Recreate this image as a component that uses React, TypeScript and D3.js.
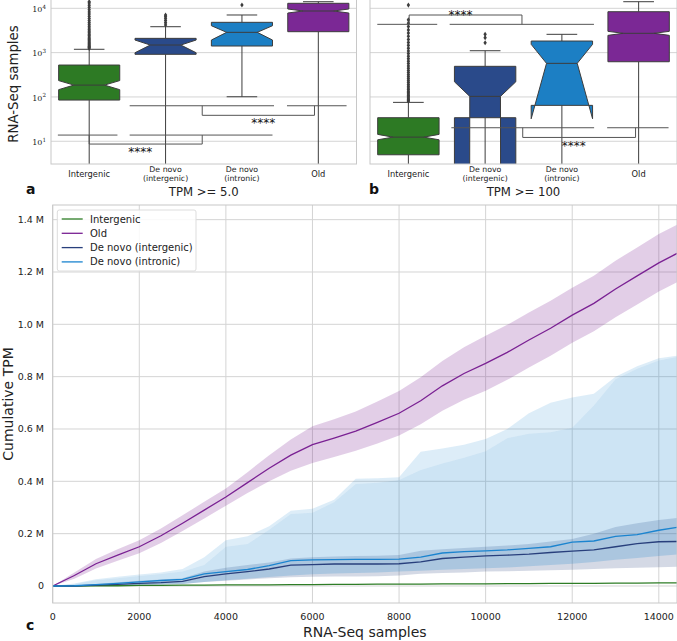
import React from "react";
import * as d3 from "d3";

// ---------------- Panels a & b : notched box plots ----------------
const boxCategories = [["Intergenic"], ["De novo", "(intergenic)"], ["De novo", "(intronic)"], ["Old"]];
const boxColors = ["#2d7a24", "#2a4a8a", "#1c7fc4", "#7b2895"];
const panelTitles = ["TPM >= 5.0", "TPM >= 100"];
const panelLetters = ["a", "b", "c"];
const logTicks = [10, 100, 1000, 10000];
const logTickExp = ["1", "2", "3", "4"];

// TPM >= 5.0
const aWhiskerLo = [1, 1, 101, 1];
const aQ1 = [85, 916, 1410, 2967];
const aNotchLo = [146, 995, 1925, 7830];
const aMedian = [185, 1485, 2870, 8690];
const aNotchHi = [234, 1923, 4050, 9650];
const aQ3 = [525, 2100, 4830, 12970];
const aWhiskerHi = [1190, 3845, 7070, 14090];
const aOutliers = [
  [1250, 1300, 1360, 1420, 1490, 1570, 1650, 1740, 1850, 1970, 2100, 2250, 2420, 2600, 2800, 3050, 3300, 3600, 3950, 4350, 4800, 5300, 5900, 6600, 7400, 8300, 9300, 10500, 11800, 13200, 14100],
  [4200, 4700, 5300, 5940, 6600, 7070],
  [11870],
  [],
];
// TPM >= 100
const bWhiskerLo = [1, 1, 1, 1];
const bQ1 = [4.96, 34, 64.6, 623];
const bNotchLo = [10.8, -20, 32.2, 2455];
const bMedian = [12.4, 103, 573, 2730];
const bNotchHi = [14.3, 220, 1538, 3020];
const bQ3 = [34, 491, 1828, 8380];
const bWhiskerHi = [75.5, 1104, 2590, 14090];
const bOutliers = [
  [80, 84, 89, 95, 101, 108, 116, 125, 135, 147, 160, 175, 192, 211, 233, 258, 286, 318, 355, 397, 445, 500, 565, 640, 730, 830, 950, 1090, 1260, 1460, 1700, 1990, 2340, 2760, 3260, 3870, 4600, 5500, 11860],
  [1670, 2170, 2590],
  [],
  [],
];

// significance annotations: [from category, to category, value]
const aSegments = [[-0.41, 0.37, 13.8], [0.53, 2.4, 13.8], [0.53, 2.42, 63.3], [2.59, 3.37, 63.3]];
const aBrackets = [[0, 1.48, 13.8, 8.65], [1.48, 2.95, 63.3, 38.5]];
const aStars = [[0.67, 4.63], [2.28, 21.2]];
const bSegments = [[-0.405, 0.376, 4350], [0.538, 2.418, 4350], [0.56, 2.42, 20.2], [2.59, 3.39, 20.2]];
const bBrackets = [[0.01, 1.48, 4350, 7060], [1.49, 2.96, 20.2, 12.2]];
const bStars = [[0.68, 5730], [2.155, 6.43]];
const starLabel = "****";

// ---------------- Panel c : cumulative TPM ----------------
const seriesNames = ["Intergenic", "Old", "De novo (intergenic)", "De novo (intronic)"];
const seriesColors = ["#2e7d26", "#7a2193", "#283f7c", "#1b84cf"];
const samples = [0, 500, 1000, 1500, 2000, 2500, 3000, 3500, 4000, 4500, 5000, 5500, 6000, 6500, 7000, 7500, 8000, 8500, 9000, 9500, 10000, 10500, 11000, 11500, 12000, 12500, 13000, 13500, 14000, 14420];
const intergenicMean = [0, 0, 0.001, 0.001, 0.002, 0.002, 0.003, 0.003, 0.004, 0.004, 0.004, 0.005, 0.005, 0.006, 0.006, 0.007, 0.007, 0.007, 0.008, 0.008, 0.008, 0.009, 0.009, 0.01, 0.01, 0.01, 0.011, 0.011, 0.012, 0.012];
const oldMean = [0, 0.04, 0.085, 0.118, 0.15, 0.192, 0.24, 0.29, 0.34, 0.395, 0.45, 0.5, 0.54, 0.565, 0.592, 0.625, 0.66, 0.708, 0.765, 0.812, 0.851, 0.893, 0.94, 0.985, 1.035, 1.08, 1.135, 1.185, 1.235, 1.271];
const oldLo = [0, 0.028, 0.067, 0.096, 0.125, 0.164, 0.21, 0.258, 0.307, 0.355, 0.4, 0.44, 0.47, 0.493, 0.517, 0.545, 0.575, 0.618, 0.67, 0.712, 0.746, 0.788, 0.835, 0.88, 0.93, 0.974, 1.027, 1.076, 1.125, 1.161];
const oldHi = [0, 0.052, 0.103, 0.14, 0.175, 0.22, 0.27, 0.322, 0.373, 0.435, 0.5, 0.56, 0.61, 0.637, 0.667, 0.705, 0.745, 0.798, 0.86, 0.912, 0.956, 0.998, 1.045, 1.09, 1.14, 1.186, 1.243, 1.294, 1.345, 1.381];
const interMean = [0, 0, 0.003, 0.006, 0.01, 0.013, 0.018, 0.036, 0.046, 0.055, 0.065, 0.08, 0.082, 0.084, 0.084, 0.084, 0.085, 0.092, 0.105, 0.11, 0.115, 0.118, 0.122, 0.128, 0.133, 0.138, 0.15, 0.162, 0.169, 0.17];
const interLo = [0, 0, 0, 0.001, 0.003, 0.005, 0.008, 0.015, 0.02, 0.025, 0.03, 0.033, 0.035, 0.036, 0.036, 0.037, 0.04, 0.047, 0.05, 0.052, 0.055, 0.056, 0.058, 0.06, 0.062, 0.065, 0.068, 0.07, 0.072, 0.074];
const interHi = [0, 0.002, 0.008, 0.014, 0.02, 0.025, 0.03, 0.055, 0.07, 0.08, 0.09, 0.105, 0.11, 0.113, 0.115, 0.116, 0.118, 0.135, 0.14, 0.145, 0.15, 0.155, 0.16, 0.17, 0.18, 0.2, 0.225, 0.24, 0.252, 0.26];
const intronMean = [0, 0.001, 0.005, 0.01, 0.016, 0.021, 0.025, 0.046, 0.055, 0.063, 0.078, 0.097, 0.1, 0.101, 0.102, 0.102, 0.103, 0.11, 0.126, 0.131, 0.134, 0.138, 0.144, 0.15, 0.168, 0.172, 0.19, 0.196, 0.213, 0.224];
const intronLo = [0, 0, 0.001, 0.002, 0.004, 0.006, 0.008, 0.015, 0.022, 0.028, 0.034, 0.04, 0.045, 0.048, 0.05, 0.052, 0.055, 0.058, 0.062, 0.065, 0.068, 0.071, 0.075, 0.08, 0.085, 0.092, 0.1, 0.107, 0.115, 0.12];
const intronHi = [0, 0.008, 0.022, 0.03, 0.038, 0.046, 0.055, 0.08, 0.15, 0.16, 0.215, 0.275, 0.28, 0.32, 0.39, 0.395, 0.405, 0.443, 0.468, 0.49, 0.515, 0.565, 0.582, 0.588, 0.605, 0.69, 0.79, 0.83, 0.862, 0.875];
const intronSpike = [0, 0.01, 0.026, 0.035, 0.044, 0.052, 0.065, 0.11, 0.175, 0.19, 0.228, 0.288, 0.295, 0.33, 0.41, 0.412, 0.416, 0.513, 0.525, 0.54, 0.562, 0.6, 0.66, 0.7, 0.72, 0.735, 0.8, 0.84, 0.87, 0.88];
const xTicksC = [0, 2000, 4000, 6000, 8000, 10000, 12000, 14000];
const yTicksC = [0, 0.2, 0.4, 0.6, 0.8, 1.0, 1.2, 1.4];

const FONT = "DejaVu Sans, Liberation Sans, sans-serif";
const GRID = "#d4d4d4";
const SPINE = "#c8c8c8";
const EDGE = "#3d3d3d";

const yLog = d3.scaleLog().domain([3.07, 15400]).range([164, 0]);
const pos = (v: number) => (v > 0 ? v : 1e-300);

type BoxData = {
  lo: number[]; q1: number[]; cilo: number[]; med: number[]; cihi: number[]; q3: number[]; hi: number[]; out: number[][];
  segs: number[][]; brackets: number[][]; stars: number[][];
};

function BoxPanel({ x, data, clipId, title, letter, letterX, showY }: any) {
  const d: BoxData = data;
  const [r0, r1] = x.range();
  const lineGen = d3.line();
  const diamond = (cx: number, cy: number) => `M${cx},${cy - 2.6}L${cx + 1.7},${cy}L${cx},${cy + 2.6}L${cx - 1.7},${cy}Z`;
  return (
    <g>
      <defs>
        <clipPath id={clipId}>
          <rect x={r0} y={0} width={r1 - r0} height={164} />
        </clipPath>
      </defs>
      {logTicks.map((t) => (
        <line key={t} x1={r0} x2={r1} y1={yLog(t)} y2={yLog(t)} stroke={GRID} strokeWidth={1} />
      ))}
      <g clipPath={`url(#${clipId})`}>
        {boxCategories.map((_, i) => {
          const cx = x(i);
          const L = x(i - 0.4), R = x(i + 0.4), nL = x(i - 0.2), nR = x(i + 0.2);
          const xs = [L, R, R, nR, R, R, L, L, nL, L, L];
          const vs = [d.q1[i], d.q1[i], d.cilo[i], d.med[i], d.cihi[i], d.q3[i], d.q3[i], d.cihi[i], d.med[i], d.cilo[i], d.q1[i]];
          const pts = xs.map((xx, k) => [xx, yLog(pos(vs[k]))] as [number, number]);
          return (
            <g key={i}>
              <line x1={cx} x2={cx} y1={yLog(d.q1[i])} y2={yLog(d.lo[i])} stroke={EDGE} strokeWidth={1} />
              <line x1={cx} x2={cx} y1={yLog(d.q3[i])} y2={yLog(d.hi[i])} stroke={EDGE} strokeWidth={1} />
              <line x1={nL} x2={nR} y1={yLog(d.lo[i])} y2={yLog(d.lo[i])} stroke={EDGE} strokeWidth={1} />
              <line x1={nL} x2={nR} y1={yLog(d.hi[i])} y2={yLog(d.hi[i])} stroke={EDGE} strokeWidth={1} />
              <path d={lineGen(pts) + "Z"} fill={boxColors[i]} stroke={EDGE} strokeWidth={1} strokeLinejoin="miter" />
              <line x1={nL} x2={nR} y1={yLog(d.med[i])} y2={yLog(d.med[i])} stroke={EDGE} strokeWidth={1} />
              {d.out[i].map((v, k) => (
                <path key={k} d={diamond(cx, yLog(v))} fill={EDGE} />
              ))}
            </g>
          );
        })}
        {d.segs.map((s, k) => (
          <line key={"s" + k} x1={x(s[0])} x2={x(s[1])} y1={yLog(s[2])} y2={yLog(s[2])} stroke="#555" strokeWidth={1} />
        ))}
        {d.brackets.map((b, k) => (
          <path key={"b" + k} d={lineGen([[x(b[0]), yLog(b[2])], [x(b[0]), yLog(b[3])], [x(b[1]), yLog(b[3])], [x(b[1]), yLog(b[2])]]) || ""} fill="none" stroke="#555" strokeWidth={1} />
        ))}
        {d.stars.map((s, k) => (
          <text key={"t" + k} x={x(s[0])} y={yLog(s[1])} textAnchor="middle" fontFamily={FONT} fontSize={12} fill="#111">{starLabel}</text>
        ))}
      </g>
      <rect x={r0} y={-2} width={r1 - r0} height={166} fill="none" stroke={SPINE} strokeWidth={1} />
      {showY &&
        logTicks.map((t, k) => (
          <text key={t} x={46} y={yLog(t) + 3.6} textAnchor="end" fontFamily="DejaVu Serif, serif" fontSize={8} fill="#222">
            10<tspan dy={-3.2} fontSize={5.6}>{logTickExp[k]}</tspan>
          </text>
        ))}
      {boxCategories.map((lines, i) =>
        lines.map((ln, k) => (
          <text key={i + "-" + k} x={x(i)} y={lines.length === 1 ? 176.5 : 172 + k * 9.1} textAnchor="middle" fontFamily={FONT} fontSize={lines.length === 1 ? 8.3 : 7.8} fill="#222">
            {ln}
          </text>
        ))
      )}
      <text x={(r0 + r1) / 2} y={196} textAnchor="middle" fontFamily={FONT} fontSize={11.7} fill="#222">{title}</text>
      <text x={letterX} y={193.5} fontFamily={FONT} fontSize={14} fontWeight="bold" fill="#111">{letter}</text>
    </g>
  );
}

function CumulativePanel() {
  const x = d3.scaleLinear().domain([0, 14420]).range([52.7, 677]);
  const y = d3.scaleLinear().domain([-0.065, 1.456]).range([603, 205]);
  const line = (vals: number[]) => d3.line<number>().x((_, i) => x(samples[i])).y((v) => y(v))(vals) || "";
  const area = (lo: number[], hi: number[]) =>
    d3.area<number>().x((_, i) => x(samples[i])).y0((_, i) => y(lo[i])).y1((_, i) => y(hi[i]))(samples) || "";
  const means = [intergenicMean, oldMean, interMean, intronMean];
  const [x0, x1] = x.range();
  const [yb, yt] = y.range();
  return (
    <g>
      <defs>
        <clipPath id="clipC">
          <rect x={x0} y={yt} width={x1 - x0} height={yb - yt} />
        </clipPath>
      </defs>
      {xTicksC.map((t) => (
        <line key={"gx" + t} x1={x(t)} x2={x(t)} y1={yt} y2={yb} stroke={GRID} strokeWidth={1} />
      ))}
      {yTicksC.map((t) => (
        <line key={"gy" + t} x1={x0} x2={x1} y1={y(t)} y2={y(t)} stroke={GRID} strokeWidth={1} />
      ))}
      <g clipPath="url(#clipC)">
        <path d={area(oldLo, oldHi)} fill={seriesColors[1]} fillOpacity={0.22} stroke="none" />
        <path d={area(interLo, interHi)} fill={seriesColors[2]} fillOpacity={0.2} stroke="none" />
        <path d={area(intronLo, intronHi)} fill={seriesColors[3]} fillOpacity={0.22} stroke="none" />
        <path d={area(intronHi, intronSpike)} fill={seriesColors[3]} fillOpacity={0.15} stroke="none" />
        {means.map((m, k) => (
          <path key={k} d={line(m)} fill="none" stroke={seriesColors[k]} strokeWidth={1.3} />
        ))}
      </g>
      <rect x={x0} y={yt} width={x1 - x0} height={yb - yt} fill="none" stroke={SPINE} strokeWidth={1} />
      {yTicksC.map((t) => (
        <text key={"ty" + t} x={44} y={y(t) + 3.4} textAnchor="end" fontFamily={FONT} fontSize={9.5} fill="#222">
          {t === 0 ? "0" : `${t.toFixed(1)} M`}
        </text>
      ))}
      {xTicksC.map((t) => (
        <text key={"tx" + t} x={x(t)} y={620} textAnchor="middle" fontFamily={FONT} fontSize={9.5} fill="#222">{t}</text>
      ))}
      <text x={(x0 + x1) / 2} y={637} textAnchor="middle" fontFamily={FONT} fontSize={14} fill="#222">RNA-Seq samples</text>
      <text transform={`translate(12.5,${(yt + yb) / 2}) rotate(-90)`} textAnchor="middle" fontFamily={FONT} fontSize={14} fill="#222">Cumulative TPM</text>
      <text x={26} y={630} fontFamily={FONT} fontSize={14} fontWeight="bold" fill="#111">{panelLetters[2]}</text>
      {/* legend */}
      <rect x={57.3} y={210} width={138.7} height={61} rx={2} fill="#fff" fillOpacity={0.85} stroke="#dddddd" strokeWidth={1} />
      {seriesNames.map((n, k) => (
        <g key={n}>
          <line x1={61.7} x2={82.7} y1={219 + k * 14.3} y2={219 + k * 14.3} stroke={seriesColors[k]} strokeWidth={1.3} />
          <text x={90} y={222.5 + k * 14.3} fontFamily={FONT} fontSize={10} fill="#222">{n}</text>
        </g>
      ))}
    </g>
  );
}

export default function App() {
  const xA = d3.scaleLinear().domain([-0.5, 3.5]).range([51, 356.5]);
  const xB = d3.scaleLinear().domain([-0.5, 3.5]).range([370, 677]);
  const dataA: BoxData = { lo: aWhiskerLo, q1: aQ1, cilo: aNotchLo, med: aMedian, cihi: aNotchHi, q3: aQ3, hi: aWhiskerHi, out: aOutliers, segs: aSegments, brackets: aBrackets, stars: aStars };
  const dataB: BoxData = { lo: bWhiskerLo, q1: bQ1, cilo: bNotchLo, med: bMedian, cihi: bNotchHi, q3: bQ3, hi: bWhiskerHi, out: bOutliers, segs: bSegments, brackets: bBrackets, stars: bStars };
  return (
    <svg width={677} height={641} style={{ position: "absolute", left: 0, top: 0, background: "#fff" }}>
      <rect x={0} y={0} width={677} height={641} fill="#fff" />
      <BoxPanel x={xA} data={dataA} clipId="clipA" title={panelTitles[0]} letter={panelLetters[0]} letterX={26} showY />
      <BoxPanel x={xB} data={dataB} clipId="clipB" title={panelTitles[1]} letter={panelLetters[1]} letterX={369} showY={false} />
      <text transform="translate(18,84) rotate(-90)" textAnchor="middle" fontFamily={FONT} fontSize={13.3} fill="#222">RNA-Seq samples</text>
      <CumulativePanel />
    </svg>
  );
}
